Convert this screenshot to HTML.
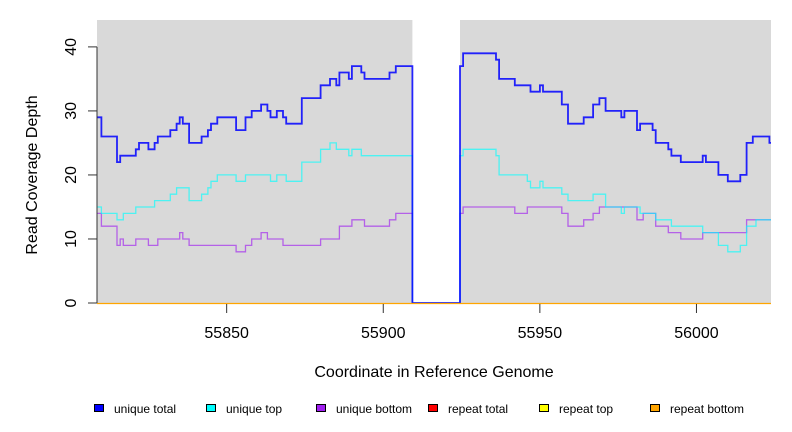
<!DOCTYPE html>
<html><head><meta charset="utf-8"><style>
body{margin:0;background:#fff}
svg{display:block;font-family:"Liberation Sans",sans-serif}
</style></head><body>
<svg id="c" width="792" height="432" viewBox="0 0 792 432"></svg>
<script>
const xMin = 55808.6, xMax = 56023.8, yMax = 44.2;
const xTicks = [55850, 55900, 55950, 56000];
const yTicks = [0, 10, 20, 30, 40];
const gapStart = 55909.3, gapEnd = 55924.5;
const totalX = [55808.6,55810,55815,55816,55821,55822,55825,55827,55828,55832,55834,55835,55836,55838,55842,55844,55845,55847,55853,55856,55858,55861,55863,55864,55866,55868,55869,55874,55880,55883,55885,55886,55889,55890,55893,55894,55902,55904,55909.3,55924.5,55925.5,55936,55937,55942,55947,55950,55951,55957,55959,55964,55967,55969,55971,55976,55977,55981,55982,55986,55987,55991,55992,55995,56002,56003,56007,56010,56014,56016,56018,56023.3];
const totalY = [29,26,22,23,24,25,24,25,26,27,28,29,28,25,26,27,28,29,27,29,30,31,30,29,30,29,28,32,34,35,34,36,35,37,36,35,36,37,0,37,39,38,35,34,33,34,33,31,28,29,31,32,30,29,30,27,28,27,25,24,23,22,23,22,20,19,20,25,26,25];
const topX = [55808.6,55810,55815,55817,55821,55827,55832,55834,55838,55842,55844,55845,55847,55853,55856,55864,55866,55869,55874,55880,55883,55885,55889,55890,55893,55909.3,55924.5,55925.5,55936,55937,55946,55947,55950,55951,55957,55959,55967,55971,55976,55977,55982,55987,55992,56002,56007,56010,56014,56016,56019];
const topY = [15,14,13,14,15,16,17,18,16,17,18,19,20,19,20,19,20,19,22,24,25,24,23,24,23,0,23,24,23,20,19,18,19,18,17,16,17,15,14,15,14,13,12,11,9,8,9,12,13];
const bottomX = [55808.6,55810,55815,55816,55817,55821,55825,55828,55835,55836,55838,55853,55856,55858,55861,55863,55868,55880,55886,55890,55894,55902,55904,55909.3,55924.5,55925.5,55942,55946,55957,55959,55964,55967,55969,55981,55983,55987,55991,55995,56002,56016];
const bottomY = [14,12,9,10,9,10,9,10,11,10,9,8,9,10,11,10,9,10,12,13,12,13,14,0,14,15,14,15,14,12,13,14,15,13,14,12,11,10,11,13];
const legendLabels = ["unique total","unique top","unique bottom","repeat total","repeat top","repeat bottom"];
const legendColors = ["#0000ff","#00ffff","#a020f0","#ff0000","#ffff00","#ffa500"];

const L=97,R=771,T=20,B=303;
const sx=v=>L+(v-xMin)/(xMax-xMin)*(R-L);
const sy=v=>B-v/yMax*(B-T);
const svg=document.getElementById('c');
const NS='http://www.w3.org/2000/svg';
function mk(tag,attrs,parent){const e=document.createElementNS(NS,tag);for(const k in attrs)e.setAttribute(k,attrs[k]);(parent||svg).appendChild(e);return e;}

let bg1=mk('rect',{x:sx(xMin),y:T,width:sx(gapStart)-sx(xMin),height:B-T,fill:'#d9d9d9'});


let bg2=mk('rect',{x:sx(gapEnd),y:T,width:sx(xMax)-sx(gapEnd),height:B-T,fill:'#d9d9d9'});



function stepPath(xs,ys){let d='';for(let i=0;i<xs.length;i++){const x0=sx(xs[i]),x1=sx(i+1<xs.length?xs[i+1]:xMax),y=sy(ys[i]);d+=(i===0?'M':'L')+x0.toFixed(1)+','+y.toFixed(1)+'L'+x1.toFixed(1)+','+y.toFixed(1);}return d;}

let pb=mk('path',{d:stepPath(bottomX,bottomY),fill:'none',stroke:'#a020f0','stroke-opacity':0.65,'stroke-width':1.3});


let pt=mk('path',{d:stepPath(topX,topY),fill:'none',stroke:'#00ffff','stroke-opacity':0.65,'stroke-width':1.3});


let ptot=mk('path',{d:stepPath(totalX,totalY),fill:'none',stroke:'#0000ff','stroke-opacity':0.85,'stroke-width':1.8});


let rep=mk('line',{x1:sx(xMin),x2:sx(xMax),y1:sy(0)+0.5,y2:sy(0)+0.5,stroke:'#ffa500','stroke-width':1.2});



let ya=mk('line',{x1:L,x2:L,y1:sy(0),y2:sy(40),stroke:'#333','stroke-width':1});


yTicks.forEach(v=>{
  let t=mk('line',{x1:88,x2:L,y1:sy(v),y2:sy(v),stroke:'#333'});
  
  
  let tx=mk('text',{x:0,y:0,transform:`translate(76,${sy(v)}) rotate(-90)`,'text-anchor':'middle','font-size':16,fill:'#000'});
  tx.textContent=v;
  
  
});
xTicks.forEach(v=>{
  let t=mk('line',{x1:sx(v),x2:sx(v),y1:304,y2:313,stroke:'#333'});
  
  
  let tx=mk('text',{x:sx(v),y:338,'text-anchor':'middle','font-size':16,fill:'#000'});
  tx.textContent=v;
  
  
});
let yt=mk('text',{x:0,y:0,transform:'translate(37,175) rotate(-90)','text-anchor':'middle','font-size':16,fill:'#000'});
yt.textContent='Read Coverage Depth';


let xt=mk('text',{x:434,y:377,'text-anchor':'middle','font-size':16,fill:'#000'});
xt.textContent='Coordinate in Reference Genome';



const lgX=[94,206,316,428,539,650];
legendLabels.forEach((lab,i)=>{
  let g=mk('g',{});
  
  
  mk('rect',{x:lgX[i]+0.5,y:404.5,width:9,height:7,fill:legendColors[i],stroke:'#000','stroke-width':1},g);
  let tx=mk('text',{x:lgX[i]+20,y:413,'font-size':12,fill:'#000'},g);
  tx.textContent=lab;
});
</script>
</body></html>
